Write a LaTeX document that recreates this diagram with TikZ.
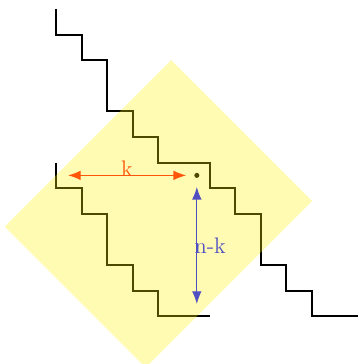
\documentclass[tikz,border=0pt]{standalone}
\usetikzlibrary{arrows.meta}
\definecolor{korange}{RGB}{255,85,10}
\definecolor{kblue}{RGB}{80,80,195}
\tikzset{
  stair/.style={line width=1.1pt, black, line join=miter},
  band/.style={fill=yellow, fill opacity=0.3, draw=none},
  karrow/.style={korange, line width=0.6pt, {Latex[length=7pt,width=5.3pt]}-{Latex[length=7pt,width=5.3pt]}},
  nkarrow/.style={kblue, line width=0.6pt, {Latex[length=7pt,width=5.3pt]}-{Latex[length=7pt,width=5.3pt]}},
  lbl/.style={font=\fontsize{12.5}{15}\selectfont, inner sep=1pt}
}
\begin{document}
\begin{tikzpicture}[x=0.5cm, y=-0.5cm]
\useasboundingbox (-2.1875,-0.35) rectangle (11.797,13.867);
% upper staircase
\draw[stair] (0,0) -- (0,1) -- (1,1) -- (1,2) -- (2,2) -- (2,4) -- (3,4) -- (3,5) -- (4,5) -- (4,6) -- (6,6) -- (6,7) -- (7,7) -- (7,8) -- (8,8) -- (8,10) -- (9,10) -- (9,11) -- (10,11) -- (10,12) -- (11.8,12);
% lower staircase
\draw[stair] (0,6) -- (0,7) -- (1,7) -- (1,8) -- (2,8) -- (2,10) -- (3,10) -- (3,11) -- (4,11) -- (4,12) -- (6,12);
% dot
\fill[black] (5.5,6.5) circle (1.4pt);
\coordinate (p) at (5.5,6.5);
% yellow band
\fill[band] (4.5,2) -- (10,7.5) -- (3.5,14) -- (-2,8.5) -- cycle;
% arrows
\coordinate (ka) at (0.47,6.5);
\coordinate (kb) at (5.08,6.5);
\coordinate (na) at (5.5,6.95);
\coordinate (nb) at (5.5,11.52);
\draw[karrow] (ka) -- (kb) node[midway, above, lbl, korange, yshift=-2pt] (klab) {k};
\draw[nkarrow] (na) -- (nb) node[midway, right, lbl, kblue, xshift=-2.5pt] (nklab) {n-k};
\end{tikzpicture}
\end{document}
